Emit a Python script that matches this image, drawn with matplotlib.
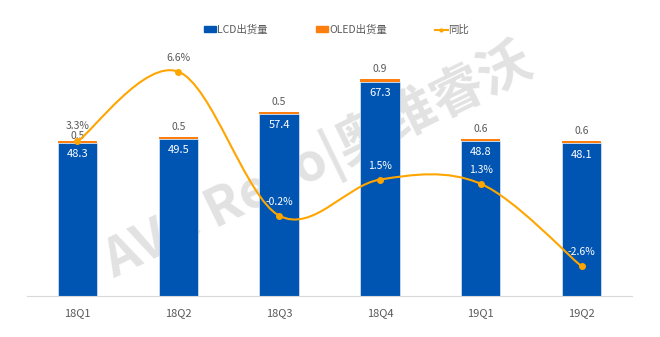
import matplotlib.pyplot as plt
from matplotlib.path import Path
from matplotlib.patches import PathPatch, Patch
from matplotlib.lines import Line2D

plt.rcParams['font.family'] = ['Noto Sans CJK SC', 'DejaVu Sans']

quarters = ['18Q1', '18Q2', '18Q3', '18Q4', '19Q1', '19Q2']
lcd = [48.3, 49.5, 57.4, 67.3, 48.8, 48.1]
oled = [0.5, 0.5, 0.5, 0.9, 0.6, 0.6]
yoy = [3.3, 6.6, -0.2, 1.5, 1.3, -2.6]
yoy_label_colors = ['#595959', '#595959', 'white', 'white', 'white', 'white']

blue = '#0055B3'
orange_bar = '#FF7F0E'
orange_line = '#FFA500'
gray = '#595959'

fig = plt.figure(figsize=(6.6, 3.37), dpi=100)
ax = fig.add_axes([27 / 660, 1 - 296 / 337, 605 / 660, 254 / 337])
ax2 = ax.twinx()

x = list(range(len(quarters)))

# водяной знак под столбцами
ax.text(318 / 660, 1 - 162 / 337, 'AVC Revo|奥维睿沃', transform=fig.transFigure,
        rotation=26, fontsize=38, fontweight='bold', color='#E2E2E2',
        ha='center', va='center', zorder=0.5)

ax.bar(x, lcd, width=0.39, color=blue, edgecolor='#DDE8F5', linewidth=0.5, zorder=2)
ax.bar(x, oled, width=0.39, bottom=lcd, color=orange_bar, linewidth=0, zorder=2)

# у 18Q1 подпись OLED прижата к столбцу, чтобы не налезать на 3.3%
oled_offsets = [3.5, 7.5, 7.5, 7.5, 7.5, 7.5]
for i in x:
    top = lcd[i] + oled[i]
    ax.annotate(f'{lcd[i]:.1f}', (i, top), xytext=(0, -9.5), textcoords='offset points',
                ha='center', va='center', color='white', fontsize=8, zorder=5)
    ax.annotate(f'{oled[i]:.1f}', (i, top), xytext=(0, oled_offsets[i]), textcoords='offset points',
                ha='center', va='center', color=gray, fontsize=7.5, zorder=5)

ax.set_xlim(-0.5, len(quarters) - 0.5)
ax.set_ylim(0, 80)
ax.set_xticks(x)
ax.set_xticklabels(quarters, color=gray, fontsize=8)
ax.tick_params(axis='x', length=0, pad=9)
ax.set_yticks([])
for s in ['top', 'left', 'right']:
    ax.spines[s].set_visible(False)
ax.spines['bottom'].set_color('#D9D9D9')

# сглаженная линия (Catmull-Rom через кривые Безье)
pts = list(zip(x, yoy))
verts = [pts[0]]
codes = [Path.MOVETO]
n = len(pts)
for i in range(n - 1):
    p0 = pts[max(i - 1, 0)]
    p1 = pts[i]
    p2 = pts[i + 1]
    p3 = pts[min(i + 2, n - 1)]
    c1 = (p1[0] + (p2[0] - p0[0]) / 6, p1[1] + (p2[1] - p0[1]) / 6)
    c2 = (p2[0] - (p3[0] - p1[0]) / 6, p2[1] - (p3[1] - p1[1]) / 6)
    verts += [c1, c2, p2]
    codes += [Path.CURVE4] * 3
ax2.add_patch(PathPatch(Path(verts, codes), fill=False, edgecolor=orange_line, linewidth=1.5, zorder=3))
ax2.plot(x, yoy, linestyle='none', marker='o', markersize=4, color=orange_line, zorder=4)
yoy_offsets = [11, 10, 10, 10, 10, 10]
for i in x:
    ax2.annotate(f'{yoy[i]:.1f}%', (i, yoy[i]), xytext=(0, yoy_offsets[i]), textcoords='offset points',
                 ha='center', va='center', color=yoy_label_colors[i], fontsize=7.5, zorder=5)
ax2.set_ylim(-4, 8)
ax2.set_yticks([])
for s in ax2.spines.values():
    s.set_visible(False)

handles = [Patch(color=blue), Patch(color=orange_bar),
           Line2D([], [], color=orange_line, marker='o', markersize=2, linewidth=1.5)]
fig.legend(handles, ['LCD出货量', 'OLED出货量', '同比'], loc='center',
           bbox_to_anchor=(0.51, 1 - 30 / 337), ncol=3, frameon=False,
           fontsize=7.5, labelcolor=gray, handlelength=1.2, handleheight=0.5,
           handletextpad=0.1, columnspacing=4.6)

fig.savefig('out.png', dpi=100)
